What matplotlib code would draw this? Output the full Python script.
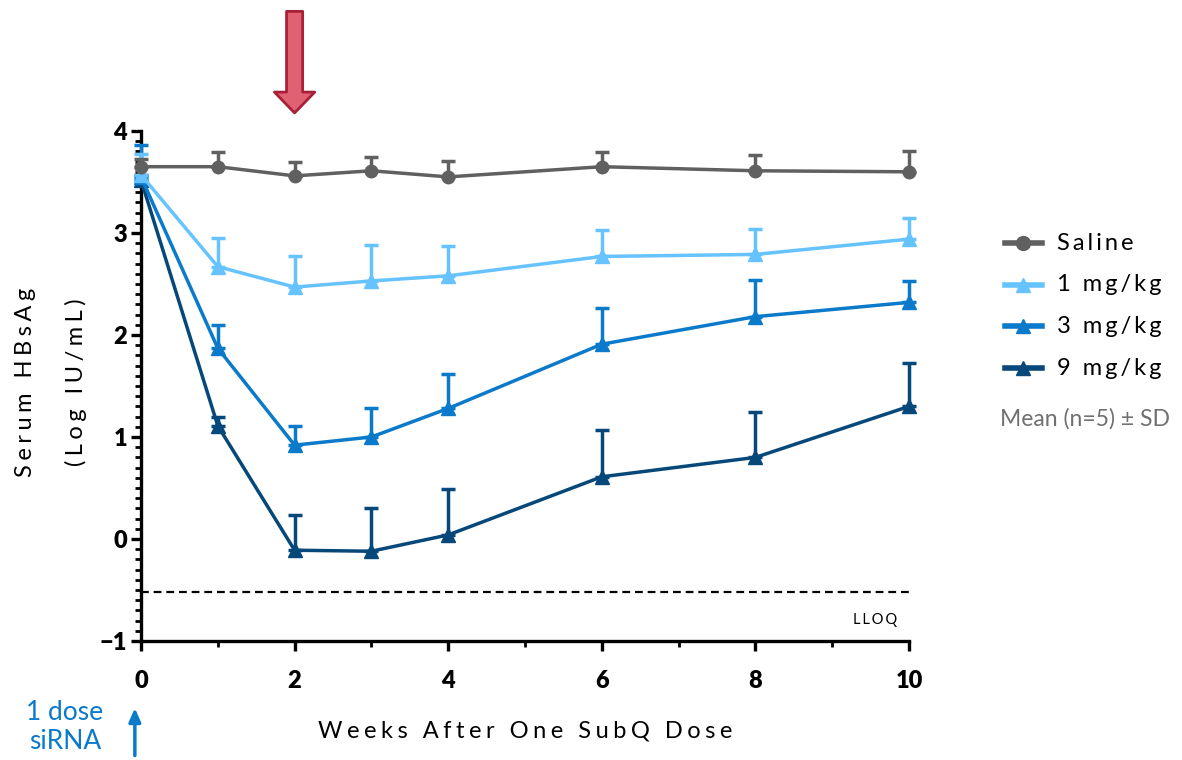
import matplotlib
matplotlib.use("Agg")
import matplotlib.pyplot as plt
from matplotlib.ticker import MultipleLocator
from matplotlib.lines import Line2D

plt.rcParams['font.family'] = ['Lato', 'DejaVu Sans']

# weeks after dose
weeks = [0, 1, 2, 3, 4, 6, 8, 10]

# mean log HBsAg per group, and SD (shown as upper bars only)
saline = [3.65, 3.65, 3.56, 3.61, 3.55, 3.65, 3.61, 3.60]
saline_sd = [0.08, 0.14, 0.14, 0.14, 0.16, 0.14, 0.15, 0.20]
dose1 = [3.57, 2.67, 2.47, 2.53, 2.58, 2.77, 2.79, 2.94]
dose1_sd = [0.20, 0.28, 0.30, 0.35, 0.29, 0.26, 0.25, 0.21]
dose3 = [3.55, 1.87, 0.92, 1.00, 1.28, 1.91, 2.18, 2.32]
dose3_sd = [0.31, 0.23, 0.19, 0.28, 0.34, 0.35, 0.36, 0.21]
dose9 = [3.52, 1.11, -0.11, -0.12, 0.04, 0.61, 0.80, 1.30]
dose9_sd = [0.05, 0.09, 0.35, 0.42, 0.45, 0.46, 0.45, 0.43]
lloq = -0.52

names = ["Saline", "1 mg/kg", "3 mg/kg", "9 mg/kg"]
colors = ["#606060", "#66c3ff", "#0b7acb", "#07487a"]
markers = ["o", "^", "^", "^"]
groups = [(saline, saline_sd), (dose1, dose1_sd), (dose3, dose3_sd), (dose9, dose9_sd)]


def spaced(s, gap="\u2009"):
    # wide letter spacing using thin spaces
    words = s.split(" ")
    return (gap * 2 + " ").join(gap.join(w) for w in words)


fig = plt.figure(figsize=(11.82, 7.60), dpi=100)
ax = fig.add_axes([141 / 1182, 1 - 641 / 760, 768 / 1182, 510 / 760])

# draw the darkest group first so saline sits on top
for i in [3, 2, 1, 0]:
    m, sd = groups[i]
    ax.errorbar(weeks, m, yerr=[[0] * len(sd), sd], color=colors[i],
                marker=markers[i], ms=10 if markers[i] == "^" else 9,
                lw=2.5, elinewidth=2.5, capsize=5, capthick=2.5,
                clip_on=False, zorder=3 + (3 - i))

ax.axhline(lloq, color="black", lw=1.6, ls=(0, (3.5, 2.2)), zorder=2)
ax.text(9.85, lloq - 0.27, spaced("LLOQ"), ha="right", va="center", fontsize=10.5)

ax.set_xlim(0, 10)
ax.set_ylim(-1, 4)
ax.xaxis.set_major_locator(MultipleLocator(2))
ax.xaxis.set_minor_locator(MultipleLocator(1))
ax.yaxis.set_major_locator(MultipleLocator(1))
ax.yaxis.set_minor_locator(MultipleLocator(0.1))
for s in ["top", "right"]:
    ax.spines[s].set_visible(False)
for s in ["left", "bottom"]:
    ax.spines[s].set_linewidth(2.4)
ax.tick_params(axis="both", which="major", length=7, width=2.4, labelsize=17)
ax.tick_params(axis="both", which="minor", length=4, width=2.0)
ax.tick_params(axis="x", which="major", pad=14)
ax.tick_params(axis="y", which="major", pad=3)
for lab in ax.get_xticklabels() + ax.get_yticklabels():
    lab.set_fontweight("heavy")

wide = "\u2009\u200a"
fig.text(525 / 1182, 1 - 731 / 760, spaced("Weeks After One SubQ Dose", wide),
         fontsize=17, ha="center", va="center")
fig.text(26 / 1182, 1 - 382 / 760, spaced("Serum HBsAg", wide), fontsize=17,
         rotation=90, ha="center", va="center")
fig.text(76 / 1182, 1 - 382 / 760, spaced("(Log IU/mL)", wide), fontsize=17,
         rotation=90, ha="center", va="center")

# legend on the right, one row per group
for i in range(4):
    yf = 1 - (243 + 41.7 * i) / 760
    fig.add_artist(Line2D([1005 / 1182, 1042 / 1182], [yf, yf], color=colors[i], lw=4))
    fig.add_artist(Line2D([1023 / 1182], [yf], color=colors[i], marker=markers[i], ms=10))
    fig.text(1057 / 1182, yf, spaced(names[i]), fontsize=17, va="center")
fig.text(1000 / 1182, 1 - 419 / 760, "Mean (n=5) ± SD", fontsize=16.5, color="#707070", va="center")

# red arrow marking week 2
ax.annotate("", xy=(2, 4.15), xytext=(2, 5.2), annotation_clip=False,
            arrowprops=dict(arrowstyle="simple,head_width=1.45,head_length=0.75,tail_width=0.58",
                            fc="#e06272", ec="#a82038", lw=2, mutation_scale=20))

# dosing marker under the axis
ax.annotate("", xy=(-0.08, -1.63), xytext=(-0.08, -2.15), annotation_clip=False,
            arrowprops=dict(arrowstyle="-|>,head_width=0.35,head_length=0.8",
                            color="#0b7acb", lw=2.5))
fig.text(65 / 1182, 1 - 727 / 760, "1 dose\nsiRNA", color="#0b7acb", fontsize=19,
         ha="center", va="center", linespacing=1.2)

fig.savefig("out.png", dpi=100)
